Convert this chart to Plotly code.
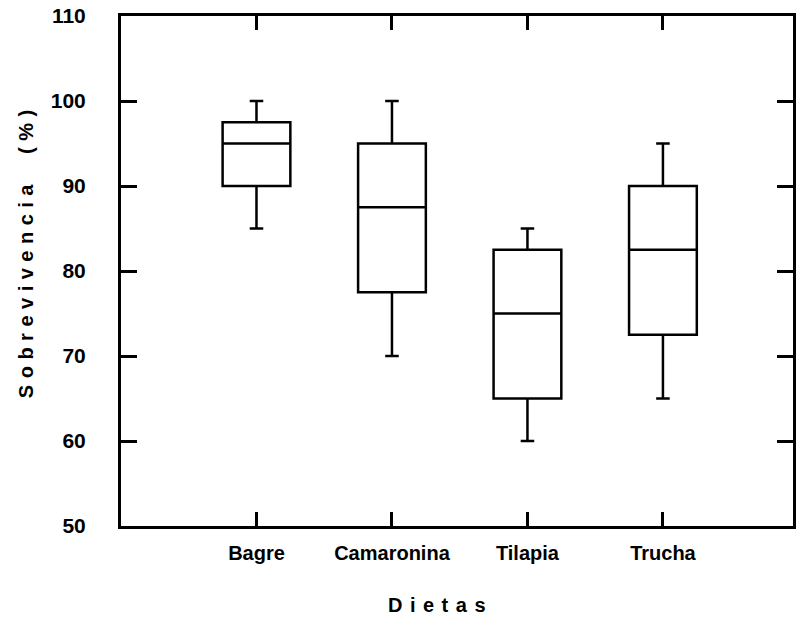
import plotly.graph_objects as go

# Survival (%) by diet: five-number summaries per group
dietas = ["Bagre", "Camaronina", "Tilapia", "Trucha"]
bigote_inf = [85, 70, 60, 65]
q1 = [90, 77.5, 65, 72.5]
mediana = [95, 87.5, 75, 82.5]
q3 = [97.5, 95, 82.5, 90]
bigote_sup = [100, 100, 85, 95]

y_ticks = [50, 60, 70, 80, 90, 100, 110]

FONT = "Liberation Sans, Arial, sans-serif"

fig = go.Figure()
fig.add_trace(go.Box(
    x=dietas,
    q1=q1,
    median=mediana,
    q3=q3,
    lowerfence=bigote_inf,
    upperfence=bigote_sup,
    boxpoints=False,
    width=0.5,
    whiskerwidth=0.2,
    fillcolor="white",
    line=dict(color="black", width=2.5),
    showlegend=False,
    hoverinfo="skip",
))

fig.update_layout(
    width=796,
    height=623,
    margin=dict(l=121, r=0, t=16, b=97),
    paper_bgcolor="white",
    plot_bgcolor="white",
    font=dict(family=FONT, size=20, color="black"),
    xaxis=dict(
        range=[-1, 3.96],
        showline=True,
        linewidth=3,
        linecolor="black",
        mirror="ticks",
        ticks="inside",
        ticklen=14,
        tickwidth=3,
        tickcolor="black",
        showgrid=False,
        zeroline=False,
        tickfont=dict(family=FONT, size=20, weight="bold"),
        ticklabelstandoff=7,
    ),
    yaxis=dict(
        range=[50, 110],
        tickvals=y_ticks,
        ticktext=[str(v) for v in y_ticks],
        showline=True,
        linewidth=3,
        linecolor="black",
        mirror="ticks",
        ticks="inside",
        ticklen=16,
        tickwidth=3,
        tickcolor="black",
        showgrid=False,
        zeroline=False,
        tickfont=dict(family=FONT, size=21, weight="bold"),
        ticklabelstandoff=28,
    ),
    annotations=[
        dict(
            text='<span style="letter-spacing:7.5px">Dietas</span>',
            xref="paper", yref="paper",
            x=0.475, y=-0.155,
            xanchor="center", yanchor="middle",
            showarrow=False,
            font=dict(family=FONT, size=20, weight="bold"),
        ),
        dict(
            text='<span style="letter-spacing:6.5px">Sobrevivencia  (%)</span>',
            xref="paper", yref="paper",
            x=-0.142, y=0.54,
            xanchor="center", yanchor="middle",
            textangle=-90,
            showarrow=False,
            font=dict(family=FONT, size=20, weight="bold"),
        ),
    ],
)

fig.write_html("out.html")
